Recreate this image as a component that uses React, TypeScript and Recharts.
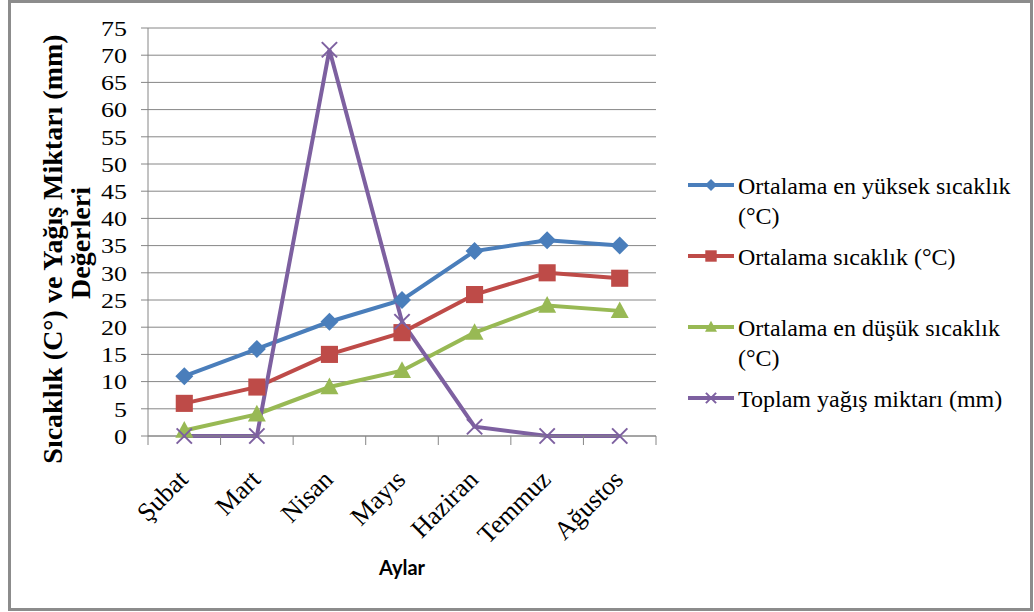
import React from 'react'
import { CartesianGrid, Legend, Line, LineChart, XAxis, YAxis } from 'recharts'

// --- veriler ---
const months = ['Şubat', 'Mart', 'Nisan', 'Mayıs', 'Haziran', 'Temmuz', 'Ağustos']
const maxTemp = [11, 16, 21, 25, 34, 36, 35]
const meanTemp = [6, 9, 15, 19, 26, 30, 29]
const minTemp = [1, 4, 9, 12, 19, 24, 23]
const rainfall = [0, 0, 71, 21, 1.7, 0, 0]
const yTicks = [0, 5, 10, 15, 20, 25, 30, 35, 40, 45, 50, 55, 60, 65, 70, 75]
const yTitleLines = ['Sıcaklık (C°) ve Yağış Miktarı (mm)', 'Değerleri']
const xTitle = 'Aylar'

type Shape = 'diamond' | 'square' | 'triangle' | 'cross'

const series: { key: string; name: string; color: string; shape: Shape }[] = [
  { key: 'max', name: 'Ortalama en yüksek sıcaklık (°C)', color: '#4A7EBB', shape: 'diamond' },
  { key: 'mean', name: 'Ortalama sıcaklık (°C)', color: '#BE4B48', shape: 'square' },
  { key: 'min', name: 'Ortalama en düşük sıcaklık (°C)', color: '#98B954', shape: 'triangle' },
  { key: 'rain', name: 'Toplam yağış miktarı (mm)', color: '#7D60A0', shape: 'cross' },
]

const data = months.map((m, i) => ({
  month: m,
  max: maxTemp[i],
  mean: meanTemp[i],
  min: minTemp[i],
  rain: rainfall[i],
}))

// --- düzen ---
const W = 1034
const H = 612
const MARGIN = { top: 28, right: 378, bottom: 76, left: 0 }
const Y_AXIS_W = 148
const X_AXIS_H = 100
const PLOT_W = W - MARGIN.right - MARGIN.left - Y_AXIS_W
const SERIF = 'Liberation Serif'
const GRID = '#868686'

function Marker({ shape, cx, cy, color, r }: { shape: Shape; cx: number; cy: number; color: string; r: number }) {
  if (cx == null || cy == null) return null
  switch (shape) {
    case 'diamond':
      return <polygon points={`${cx},${cy - r} ${cx + r},${cy} ${cx},${cy + r} ${cx - r},${cy}`} fill={color} />
    case 'square':
      return <rect x={cx - r * 0.95} y={cy - r * 0.95} width={r * 1.9} height={r * 1.9} fill={color} />
    case 'triangle':
      return (
        <polygon
          points={`${cx},${cy - r * 1.05} ${cx + r},${cy + r * 0.8} ${cx - r},${cy + r * 0.8}`}
          fill={color}
        />
      )
    default:
      return (
        <g stroke={color} strokeWidth={2}>
          <line x1={cx - r * 0.85} y1={cy - r * 0.85} x2={cx + r * 0.85} y2={cy + r * 0.85} />
          <line x1={cx - r * 0.85} y1={cy + r * 0.85} x2={cx + r * 0.85} y2={cy - r * 0.85} />
        </g>
      )
  }
}

function MonthTick(props: any) {
  const { x, y, payload, index } = props
  const half = PLOT_W / months.length / 2
  return (
    <g>
      <line x1={x - half} x2={x - half} y1={y} y2={y + 9} stroke={GRID} />
      {index === months.length - 1 && <line x1={x + half} x2={x + half} y1={y} y2={y + 9} stroke={GRID} />}
      <text
        transform={`translate(${x + 5},${y + 45}) rotate(-45)`}
        textAnchor="end"
        style={{ fontFamily: SERIF, fontSize: 26 }}
        fill="#000"
      >
        {payload.value}
      </text>
    </g>
  )
}

function ValueTick(props: any) {
  const { x, y, payload } = props
  return (
    <text
      transform={`translate(${x},${y}) scale(1.18,1)`}
      dy="0.35em"
      textAnchor="end"
      style={{ fontFamily: SERIF, fontSize: 22 }}
      fill="#000"
    >
      {payload.value}
    </text>
  )
}

function YTitle() {
  return (
    <g style={{ fontFamily: SERIF, fontWeight: 'bold', fontSize: 28 }} fill="#000">
      <text transform="translate(62,249) rotate(-90)" textAnchor="middle">
        {yTitleLines[0]}
      </text>
      <text transform="translate(90,243) rotate(-90)" textAnchor="middle">
        {yTitleLines[1]}
      </text>
    </g>
  )
}

function XTitle(props: any) {
  const vb = props.viewBox || { x: 0, y: 0, width: 0 }
  return (
    <text
      x={vb.x + vb.width / 2}
      y={vb.y + 139}
      textAnchor="middle"
      style={{ fontFamily: 'Lato', fontWeight: 'bold', fontSize: 20 }}
      fill="#000"
    >
      {xTitle}
    </text>
  )
}

function LegendBox() {
  return (
    <div style={{ fontFamily: SERIF, fontSize: 24, lineHeight: '30px', color: '#000' }}>
      {series.map((s) => (
        <div key={s.key} style={{ display: 'flex', alignItems: 'flex-start', height: 71 }}>
          <svg width={46} height={30} style={{ flex: 'none' }}>
            <line x1={0} x2={46} y1={14} y2={14} stroke={s.color} strokeWidth={4} />
            <Marker shape={s.shape} cx={23} cy={14} color={s.color} r={6} />
          </svg>
          <div style={{ width: 285, marginLeft: 4, fontFamily: SERIF }}>{s.name}</div>
        </div>
      ))}
    </div>
  )
}

export default function App() {
  return (
    <div style={{ position: 'absolute', left: 0, top: 0, width: W, height: H, background: '#fff' }}>
      <div
        style={{
          position: 'absolute',
          left: 8,
          top: 0,
          width: 1025,
          height: 611,
          border: '3px solid #8c8c8c',
          boxSizing: 'border-box',
        }}
      />
      <div style={{ position: 'absolute', left: 0, top: 0 }}>
        <LineChart width={W} height={H} data={data} margin={MARGIN}>
          <CartesianGrid vertical={false} stroke={GRID} />
          <XAxis
            dataKey="month"
            height={X_AXIS_H}
            padding={{ left: PLOT_W / months.length / 2, right: PLOT_W / months.length / 2 }}
            interval={0}
            tickLine={false}
            tickSize={0}
            tickMargin={0}
            stroke={GRID}
            tick={<MonthTick />}
            label={<XTitle />}
          />
          <YAxis
            domain={[0, 75]}
            ticks={yTicks}
            interval={0}
            width={Y_AXIS_W}
            tickSize={7}
            tickMargin={14}
            stroke={GRID}
            tick={<ValueTick />}
            label={<YTitle />}
          />
          <Legend
            layout="vertical"
            align="center"
            verticalAlign="middle"
            wrapperStyle={{ left: 688, top: 171, width: 340, height: 290 }}
            content={<LegendBox />}
          />
          {series.map((s) => (
            <Line
              key={s.key}
              type="linear"
              dataKey={s.key}
              name={s.name}
              stroke={s.color}
              strokeWidth={4}
              isAnimationActive={false}
              activeDot={false}
              dot={(p: any) => (
                <Marker
                  key={`${s.key}-${p.index}`}
                  shape={s.shape}
                  cx={p.cx}
                  cy={p.cy}
                  color={s.color}
                  r={9}
                />
              )}
            />
          ))}
        </LineChart>
      </div>
    </div>
  )
}
